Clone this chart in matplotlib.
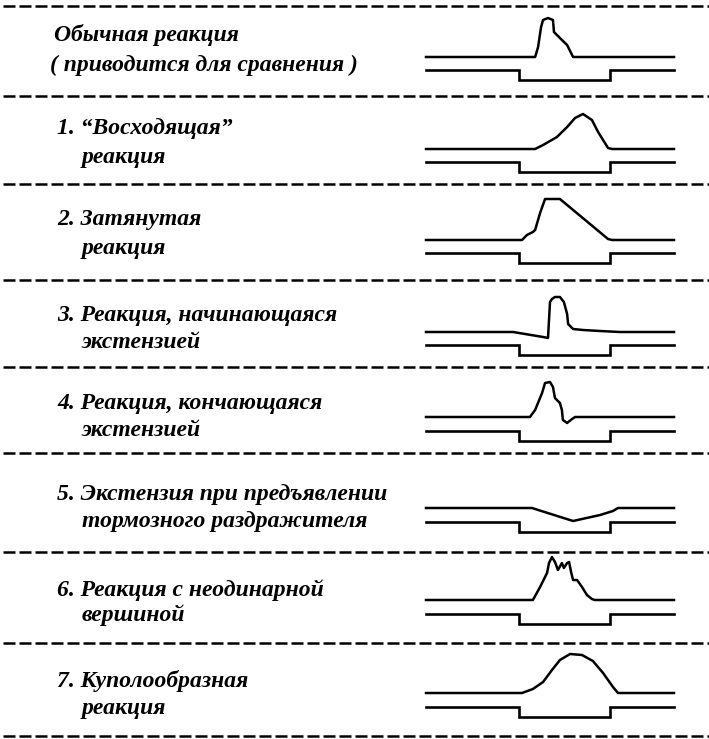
#!/usr/bin/env python3

import numpy as np
import matplotlib.pyplot as plt

# row captions (first line, second line)
captions = [
    ("Обычная реакция", "( приводится для сравнения )"),
    ("1. “Восходящая”", "реакция"),
    ("2. Затянутая", "реакция"),
    ("3. Реакция, начинающаяся", "экстензией"),
    ("4. Реакция, кончающаяся", "экстензией"),
    ("5. Экстензия при предъявлении", "тормозного раздражителя"),
    ("6. Реакция с неодинарной", "вершиной"),
    ("7. Куполообразная", "реакция"),
]

# response curves: time (0..100 of the sweep) and deflection from baseline
resp_t = [
    [0, 44.0, 45.2, 46.4, 47.2, 49.2, 51.2, 51.6, 54.0, 56.9, 59.3, 100],
    [0, 44.0, 47.2, 52.8, 56.9, 60.1, 63.3, 66.9, 69.4, 71.4, 73.4, 75.0, 100],
    [0, 38.7, 40.7, 43.1, 44.0, 46.0, 48.0, 54.0, 73.4, 75.0, 100],
    [0, 35.1, 47.2, 49.2, 50.0, 50.8, 52.0, 54.0, 55.6, 56.9, 57.3, 59.3, 63.3, 70.2, 78.2, 100],
    [0, 41.9, 44.0, 46.8, 48.0, 50.0, 51.2, 52.0, 54.0, 54.8, 55.2, 56.9, 58.9, 60.1, 100],
    [0, 42.7, 59.3, 70.2, 75.4, 77.4, 100],
    [0, 43.1, 46.0, 48.8, 49.6, 50.8, 52.0, 53.2, 54.8, 55.6, 56.9, 57.7, 58.5, 59.3, 60.9,
     62.9, 64.9, 66.9, 68.0, 100],
    [0, 38.7, 43.1, 47.2, 50.8, 54.0, 58.1, 62.9, 67.3, 71.4, 75.4, 77.4, 100],
]
resp_amp = [
    [0, 0, 10, 30, 37, 39, 37, 25, 19, 12, 0, 0],
    [0, 0, 4, 12, 22, 31, 35, 29, 17, 9, 1, 0, 0],
    [0, 0, 5, 8, 10, 27, 41, 41, 1, 0, 0],
    [0, 0, -5, -6, 30, 33, 35, 35, 30, 18, 8, 3, 2, 1, 0, 0],
    [0, 0, 7, 24, 34, 35, 30, 19, 14, 7, -3, -6, -2, 0, 0],
    [0, 0, -13, -7, -3, 0, 0],
    [0, 0, 13, 27, 37, 43, 38, 30, 37, 32, 37, 38, 28, 20, 20, 13, 5, 1, 0, 0],
    [0, 0, 4, 11, 23, 33, 39, 38, 32, 20, 6, 0, 0],
]

# stimulus marker
stim_on = 37.5
stim_off = 74.0
stim_depth = 10


def main():
    fig = plt.figure(figsize=(7.09, 7.39), dpi=100)
    ax = fig.add_axes([0, 0, 1, 1])
    ax.set_xlim(0, 709)
    ax.set_ylim(739, 0)
    ax.axis("off")

    # layout (pixels)
    sep_y = [6, 96, 184, 280, 367, 453, 552, 643, 736]
    upper_y = [57, 149, 240, 332, 417, 508, 600, 693]
    lower_y = [70, 162, 253, 345, 431, 522, 614, 707]
    text_y = [(35, 65), (128, 157), (219, 248), (315, 342),
              (403, 430), (494, 521), (590, 615), (681, 708)]
    text_x = [(54, 50)] + [(57, 82)] * 7
    x0, sx = 426, 2.48

    for y in sep_y:
        ax.plot([3, 709], [y, y], color="black", lw=1.8,
                linestyle=(0, (4.8, 1.6)), solid_capstyle="butt")

    font = dict(family="Liberation Serif", style="italic", weight="bold",
                fontsize=17, color="black", va="baseline")
    for i, (l1, l2) in enumerate(captions):
        ax.text(text_x[i][0], text_y[i][0] + 6, l1, **font)
        ax.text(text_x[i][1], text_y[i][1] + 6, l2, **font)

        t = np.array(resp_t[i])
        a = np.array(resp_amp[i])
        ax.plot(x0 + t * sx, upper_y[i] - a, color="black", lw=1.8,
                solid_joinstyle="round")

        st = np.array([0, stim_on, stim_on, stim_off, stim_off, 100])
        sl = np.array([0, 0, -1, -1, 0, 0]) * stim_depth
        ax.plot(x0 + st * sx, lower_y[i] - sl, color="black", lw=1.9,
                solid_joinstyle="miter")

    fig.savefig("out.png", dpi=100, facecolor="white")


if __name__ == "__main__":
    main()
